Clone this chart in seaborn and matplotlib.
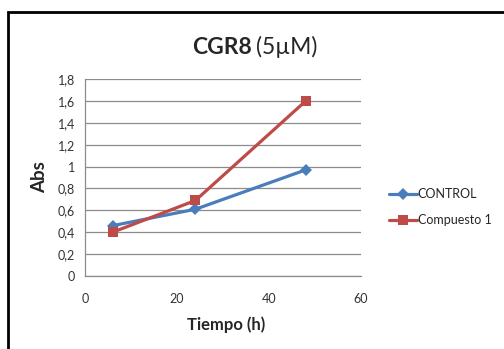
import matplotlib
matplotlib.use("Agg")
import matplotlib.pyplot as plt
import seaborn as sns
import pandas as pd
from matplotlib.patches import Rectangle

# Data
tiempo = [6, 24, 48]
control = [0.46, 0.61, 0.97]
compuesto1 = [0.40, 0.69, 1.60]
series_names = ["CONTROL", "Compuesto 1"]
y_ticks = [0, 0.2, 0.4, 0.6, 0.8, 1.0, 1.2, 1.4, 1.6, 1.8]
y_ticklabels = ["0", "0,2", "0,4", "0,6", "0,8", "1", "1,2", "1,4", "1,6", "1,8"]
x_ticks = [0, 20, 40, 60]

df = pd.DataFrame({
    "Tiempo": tiempo * 2,
    "Abs": control + compuesto1,
    "Serie": [series_names[0]] * 3 + [series_names[1]] * 3,
})

sns.set_style("white")
plt.rcParams["font.family"] = ["Lato", "DejaVu Sans"]

W, H = 504, 349
fig = plt.figure(figsize=(W / 100, H / 100), dpi=100)
ax = fig.add_axes([85 / W, 1 - 276 / H, (361 - 85) / W, (276 - 79) / H])

blue = "#4A7EBB"
red = "#BE4B48"
sns.lineplot(data=df, x="Tiempo", y="Abs", hue="Serie", style="Serie",
             palette={series_names[0]: blue, series_names[1]: red},
             markers={series_names[0]: "D", series_names[1]: "s"},
             dashes=False, linewidth=2.3, ax=ax, legend=True)
for line in ax.lines:
    if line.get_marker() == "D":
        line.set_markersize(6)
    else:
        line.set_markersize(7.5)
    line.set_markeredgewidth(0)

ax.set_xlim(0, 60)
ax.set_ylim(0, 1.8)
ax.set_xticks(x_ticks)
ax.set_yticks(y_ticks)
ax.set_yticklabels(y_ticklabels)
grey = "#8c8c8c"
ax.grid(axis="y", color=grey, linewidth=0.9)
ax.grid(axis="x", visible=False)
for s in ["top", "right"]:
    ax.spines[s].set_visible(False)
for s in ["left", "bottom"]:
    ax.spines[s].set_color(grey)
    ax.spines[s].set_linewidth(0.9)
ax.tick_params(axis="both", which="major", length=4, width=0.9, color=grey,
               labelsize=9, labelcolor="#333333", direction="out")
ax.tick_params(axis="x", pad=8)
ax.tick_params(axis="y", pad=3)
ax.set_xlabel("")
ax.set_ylabel("")

fig.text(226 / W, 1 - 325 / H, "Tiempo (h)", ha="center", va="center",
         fontsize=12, fontweight="bold")
fig.text(40 / W, 1 - 177 / H, "Abs", ha="center", va="center",
         rotation=90, fontsize=13.5, fontweight="bold")

fig.text(252 / W, 1 - 54 / H, "CGR8", ha="right", va="baseline",
         fontsize=16.5, fontweight="bold")
fig.text(256 / W, 1 - 54 / H, "(5µM)", ha="left", va="baseline",
         fontsize=16.5)

handles, labels = ax.get_legend_handles_labels()
leg = ax.legend(handles, labels, loc="center left",
                bbox_to_anchor=(384 / W, 1 - 207 / H),
                bbox_transform=fig.transFigure, frameon=False,
                fontsize=9, handlelength=2.2, handletextpad=0.1,
                labelspacing=1.1, borderaxespad=0)

fig.patches.append(Rectangle((8 / W, -0.05), 1.2, 1 - 12 / H + 0.05,
                             transform=fig.transFigure, fill=False,
                             edgecolor="black", linewidth=2))

fig.savefig("out.png", dpi=100, facecolor="white")
